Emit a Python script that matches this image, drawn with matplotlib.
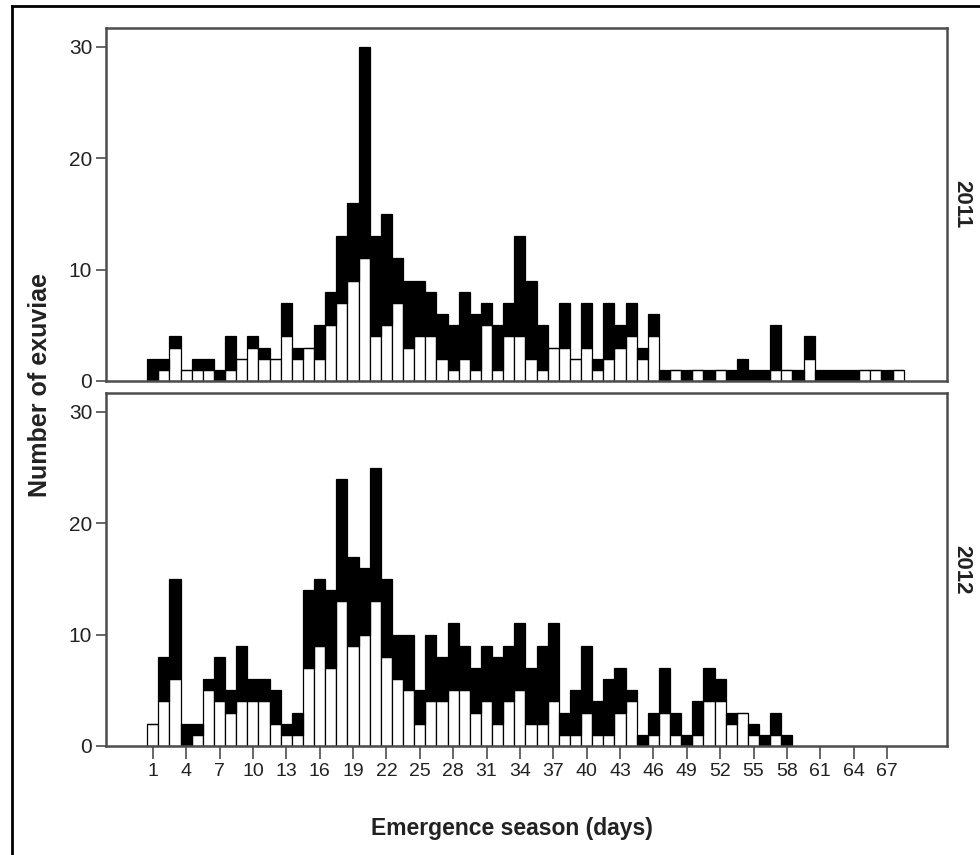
import matplotlib
matplotlib.use("Agg")
import matplotlib.pyplot as plt
import numpy as np
from matplotlib.lines import Line2D

plt.rcParams["font.family"] = ["Liberation Sans", "DejaVu Sans"]

# daily exuviae counts, lower (open) and upper (filled) part of each stacked bar
DAYS_2011 = list(range(1, 69))
OPEN_2011 = [0, 1, 3, 1, 1, 1, 0, 1, 2, 3,
             2, 2, 4, 2, 3, 2, 5, 7, 9, 11,
             4, 5, 7, 3, 4, 4, 2, 1, 2, 1,
             5, 1, 4, 4, 2, 1, 3, 3, 2, 3,
             1, 2, 3, 4, 2, 4, 0, 1, 0, 1,
             0, 1, 0, 0, 0, 0, 1, 1, 0, 2,
             0, 0, 0, 0, 1, 1, 0, 1]
FILLED_2011 = [2, 1, 1, 0, 1, 1, 1, 3, 0, 1,
               1, 0, 3, 1, 0, 3, 3, 6, 7, 19,
               9, 10, 4, 6, 5, 4, 4, 4, 6, 5,
               2, 4, 3, 9, 7, 4, 0, 4, 0, 4,
               1, 5, 2, 3, 1, 2, 1, 0, 1, 0,
               1, 0, 1, 2, 1, 1, 4, 0, 1, 2,
               1, 1, 1, 1, 0, 0, 1, 0]

DAYS_2012 = list(range(1, 59))
OPEN_2012 = [2, 4, 6, 0, 1, 5, 4, 3, 4, 4,
             4, 2, 1, 1, 7, 9, 7, 13, 9, 10,
             13, 8, 6, 5, 2, 4, 4, 5, 5, 3,
             4, 2, 4, 5, 2, 2, 4, 1, 1, 3,
             1, 1, 3, 4, 0, 1, 3, 1, 0, 1,
             4, 4, 2, 3, 1, 0, 1, 0]
FILLED_2012 = [0, 4, 9, 2, 1, 1, 4, 2, 5, 2,
               2, 3, 1, 2, 7, 6, 7, 11, 8, 6,
               12, 7, 4, 5, 3, 6, 4, 6, 4, 4,
               5, 6, 5, 6, 5, 7, 7, 2, 4, 6,
               3, 5, 4, 1, 1, 2, 4, 2, 1, 3,
               3, 2, 1, 0, 1, 1, 2, 1]

YEARS = ["2011", "2012"]
Y_TICKS = [0, 10, 20, 30]
X_TICKS = list(range(1, 68, 3))

SPINE_COLOUR = "#4d4d4d"
TEXT_COLOUR = "#222222"


def _draw_panel(ax, days, lower, upper, year, show_x):
    """Draw one year's stacked daily bars."""
    days = np.array(days)
    lower = np.array(lower)
    upper = np.array(upper)

    ax.bar(days, lower, width=1.0, color="white", edgecolor="black", linewidth=0.9)
    ax.bar(days, upper, width=1.0, bottom=lower, color="black", edgecolor="black", linewidth=0.9)

    ax.set_xlim(-3.2, 72.4)
    ax.set_ylim(0, 31.7)
    ax.set_yticks(Y_TICKS)
    ax.set_yticklabels([str(t) for t in Y_TICKS], fontsize=15, color=TEXT_COLOUR)
    ax.tick_params(axis="y", direction="out", length=7, width=1.2, color=SPINE_COLOUR, pad=3)

    if show_x:
        ax.set_xticks(X_TICKS)
        ax.set_xticklabels([str(t) for t in X_TICKS], fontsize=14, color=TEXT_COLOUR)
        ax.tick_params(axis="x", direction="out", length=9, width=1.2, color=SPINE_COLOUR, pad=3)
    else:
        ax.set_xticks([])

    for spine in ax.spines.values():
        spine.set_color(SPINE_COLOUR)
        spine.set_linewidth(1.8)

    ax.text(1.018, 0.5, year, transform=ax.transAxes, rotation=270,
            ha="center", va="center", fontsize=16, fontweight="bold", color=TEXT_COLOUR)


def run():
    fig = plt.figure(figsize=(9.8, 8.55), dpi=100)

    ax_top = fig.add_axes([0.1082, 0.5544, 0.8582, 0.4129])
    ax_bottom = fig.add_axes([0.1082, 0.1275, 0.8582, 0.4129])

    _draw_panel(ax_top, DAYS_2011, OPEN_2011, FILLED_2011, YEARS[0], show_x=False)
    _draw_panel(ax_bottom, DAYS_2012, OPEN_2012, FILLED_2012, YEARS[1], show_x=True)

    fig.text(0.041, 1 - 385 / 855, "Number of exuviae", rotation=90, ha="center", va="center",
             fontsize=18, fontweight="bold", color=TEXT_COLOUR)
    fig.text(0.522, 1 - 828 / 855, "Emergence season (days)", ha="center", va="center",
             fontsize=16.5, fontweight="bold", color=TEXT_COLOUR)

    # outer frame around the figure
    fig.add_artist(Line2D([12 / 980, 1.0], [1 - 6 / 855, 1 - 6 / 855],
                          transform=fig.transFigure, color="black", linewidth=2))
    fig.add_artist(Line2D([12 / 980, 12 / 980], [0.0, 1 - 6 / 855],
                          transform=fig.transFigure, color="black", linewidth=2))

    fig.savefig("out.png", dpi=100)
    plt.close(fig)


if __name__ == "__main__":
    run()
